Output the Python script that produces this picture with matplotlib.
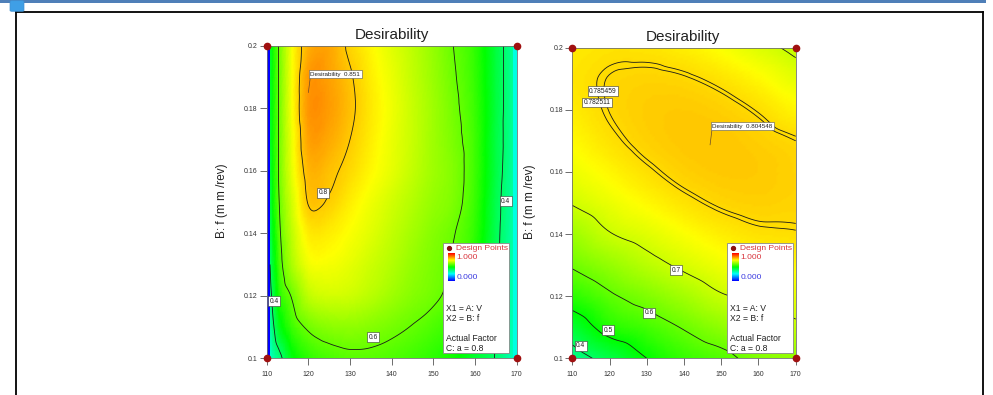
import numpy as np
import matplotlib
matplotlib.use("Agg")
import matplotlib.pyplot as plt
import matplotlib.tri as mtri
from matplotlib.colors import LinearSegmentedColormap
from matplotlib.patches import Rectangle, FancyBboxPatch
from matplotlib.lines import Line2D

plt.rcParams['font.family'] = ['Liberation Sans', 'DejaVu Sans']

# ------------------------------------------------------------------ data
v_ticks = [110, 120, 130, 140, 150, 160, 170]
f_ticks = [0.1, 0.12, 0.14, 0.16, 0.18, 0.2]
f_grid = [0.10, 0.11, 0.12, 0.13, 0.14, 0.15, 0.16, 0.17, 0.18, 0.19, 0.20]

# left panel: desirability (rows = f_grid, cols = left_v)
left_v = [110.8, 111.5, 113, 116, 120, 125, 130, 135, 140, 145, 150, 155, 160, 165, 167.5, 169.1]
left_d = [
    [0.30, 0.33, 0.375, 0.48, 0.54, 0.57, 0.585, 0.585, 0.575, 0.56, 0.54, 0.51, 0.455, 0.395, 0.35, 0.315],
    [0.34, 0.385, 0.47, 0.555, 0.61, 0.635, 0.64, 0.63, 0.615, 0.597, 0.575, 0.545, 0.485, 0.40, 0.355, 0.32],
    [0.375, 0.425, 0.53, 0.605, 0.685, 0.705, 0.70, 0.68, 0.655, 0.63, 0.61, 0.578, 0.51, 0.41, 0.36, 0.325],
    [0.40, 0.455, 0.565, 0.665, 0.735, 0.74, 0.725, 0.70, 0.675, 0.645, 0.62, 0.59, 0.53, 0.415, 0.365, 0.33],
    [0.42, 0.48, 0.585, 0.685, 0.765, 0.765, 0.745, 0.72, 0.69, 0.66, 0.63, 0.602, 0.545, 0.42, 0.37, 0.335],
    [0.43, 0.50, 0.60, 0.705, 0.803, 0.795, 0.765, 0.735, 0.705, 0.675, 0.645, 0.62, 0.555, 0.425, 0.375, 0.34],
    [0.44, 0.505, 0.61, 0.725, 0.818, 0.81, 0.785, 0.755, 0.725, 0.69, 0.655, 0.625, 0.56, 0.435, 0.38, 0.345],
    [0.45, 0.51, 0.61, 0.73, 0.838, 0.832, 0.80, 0.765, 0.73, 0.695, 0.655, 0.618, 0.56, 0.435, 0.385, 0.35],
    [0.45, 0.51, 0.61, 0.74, 0.85, 0.845, 0.81, 0.77, 0.735, 0.695, 0.655, 0.612, 0.555, 0.44, 0.385, 0.35],
    [0.45, 0.51, 0.61, 0.74, 0.845, 0.84, 0.805, 0.765, 0.73, 0.69, 0.65, 0.605, 0.55, 0.44, 0.385, 0.35],
    [0.45, 0.51, 0.61, 0.74, 0.825, 0.835, 0.79, 0.755, 0.72, 0.685, 0.645, 0.598, 0.545, 0.44, 0.385, 0.35],
]
# narrow edge bands of the left panel: (V from, V to, desirability)
left_bands = [(110.0, 110.8, 0.0), (169.1, 170.0, 0.28)]
left_levels = [0.4, 0.6, 0.8]
left_labels = [("0.4", 111.75, 0.1183), ("0.4", 167.4, 0.1503), ("0.6", 135.5, 0.1068),
               ("0.8", 123.5, 0.1529)]
left_opt = (120.0, 0.185, "0.851")

# right panel
right_v = [110, 120, 130, 140, 150, 160, 170]
right_d = [
    [0.36, 0.43, 0.50, 0.55, 0.58, 0.625, 0.645],
    [0.45, 0.53, 0.565, 0.605, 0.64, 0.67, 0.69],
    [0.54, 0.59, 0.625, 0.66, 0.695, 0.71, 0.725],
    [0.607, 0.645, 0.68, 0.71, 0.735, 0.748, 0.755],
    [0.655, 0.697, 0.72, 0.745, 0.765, 0.777, 0.7804],
    [0.703, 0.73, 0.754, 0.7747, 0.7888, 0.7942, 0.791],
    [0.732, 0.756, 0.778, 0.7942, 0.8017, 0.8006, 0.7925],
    [0.752, 0.776, 0.7934, 0.8029, 0.8038, 0.796, 0.7855],
    [0.766, 0.786, 0.7978, 0.8007, 0.7949, 0.7806, 0.7576],
    [0.773, 0.7864, 0.7912, 0.7875, 0.7752, 0.7542, 0.7247],
    [0.769, 0.7755, 0.7738, 0.7635, 0.7445, 0.717, 0.688],
]
right_bands = []
right_levels = [0.4, 0.5, 0.6, 0.7, 0.782511, 0.785459]
right_labels = [("0.7", 137.9, 0.1284), ("0.6", 130.6, 0.1146), ("0.5", 119.6, 0.1091),
                ("0.4", 112.3, 0.104), ("0.785459", 118.2, 0.186), ("0.782511", 116.6, 0.1824)]
right_opt = (147.0, 0.1687, "0.804548")

design_v = [110, 110, 170, 170]
design_f = [0.1, 0.2, 0.1, 0.2]

legend_lines = ["X1 = A: V", "X2 = B: f", "", "Actual Factor", "C: a = 0.8"]

# ------------------------------------------------------------------ style
W, H = 993, 395
cmap = LinearSegmentedColormap.from_list(
    "de", [(0.0, "#0000ff"), (0.25, "#00ffff"), (0.5, "#00ff00"),
           (0.75, "#ffff00"), (1.0, "#ff0000")])


def fx(x):
    return x / W


def fy(y):
    return 1 - y / H


fig = plt.figure(figsize=(W / 100, H / 100), dpi=100)
fig.patch.set_facecolor("white")

# page frame
fig.add_artist(Rectangle((0, fy(2.5)), fx(986), 2.5 / H, transform=fig.transFigure,
                         fc="#4f7fb8", ec="none", zorder=1))
fig.add_artist(FancyBboxPatch((fx(12), fy(10.5)), 10 / W, 9 / H, transform=fig.transFigure,
                              boxstyle="round,pad=0.002", fc="#3f9fe6", ec="#3f8fd0",
                              lw=0.5, zorder=2))
for (xa, ya, xb, yb) in [(16, 12, 16, 395), (16, 12, 983, 12), (983, 12, 983, 395)]:
    fig.add_artist(Line2D([fx(xa), fx(xb)], [fy(ya), fy(yb)], transform=fig.transFigure,
                          color="black", lw=1.3, zorder=1))


def grid_field(v, d):
    V, F = np.meshgrid(np.asarray(v, float), np.asarray(f_grid, float))
    u = (V - 110.0) / 60.0
    w = (F - 0.1) / 0.1
    nr, nc = V.shape
    tris = []
    for i in range(nr - 1):
        for j in range(nc - 1):
            a = i * nc + j
            b = a + 1
            c = a + nc
            e = c + 1
            tris.append([a, b, e])
            tris.append([a, e, c])
    tri = mtri.Triangulation(u.ravel(), w.ravel(), np.array(tris))
    z = np.asarray(d, float).ravel()
    interp = mtri.CubicTriInterpolator(tri, z, kind="geom")
    tri_r, z_r = mtri.UniformTriRefiner(tri).refine_field(z, triinterpolator=interp, subdiv=4)
    tri_d = mtri.Triangulation(tri_r.x * 60.0 + 110.0, tri_r.y * 0.1 + 0.1, tri_r.triangles)
    return tri_d, z_r


def panel(rect, v, d, bands, levels, labels, opt, title_xy, ylab_xy, legend_rect):
    ax = fig.add_axes(rect)
    ax.set_xlim(110, 170)
    ax.set_ylim(0.1, 0.2)
    tri_d, z_r = grid_field(v, d)
    ax.tripcolor(tri_d, np.clip(z_r, 0, 1), shading="gouraud", cmap=cmap, vmin=0, vmax=1,
                 rasterized=True)
    for (a, b, val) in bands:
        ax.axvspan(a, b, color=cmap(val), lw=0, zorder=2)
    ax.tricontour(tri_d, z_r, levels=levels, colors="#1a1a1a", linewidths=0.6, zorder=3)
    for (txt, lx, ly) in labels:
        ax.text(lx, ly, txt, ha="center", va="center", fontsize=4.8, color="#222222",
                zorder=6, bbox=dict(boxstyle="square,pad=0.18", fc="white", ec="#333333",
                                    lw=0.4))
    ax.annotate("Desirability  " + opt[2], xy=(opt[0], opt[1]), xytext=(2, 16),
                textcoords="offset pixels", fontsize=4.5, ha="left", va="bottom",
                color="#222222", zorder=7,
                bbox=dict(boxstyle="square,pad=0.25", fc="white", ec="#555555", lw=0.4),
                arrowprops=dict(arrowstyle="-", color="#6b4a2a", lw=0.5,
                                shrinkA=0, shrinkB=0, relpos=(0.0, 0.0)))
    ax.plot(design_v, design_f, "o", color="#a01010", ms=4.5, clip_on=False, zorder=10)
    ax.set_xticks(v_ticks)
    ax.set_xticklabels([str(t) for t in v_ticks])
    ax.set_yticks(f_ticks)
    ax.set_yticklabels(["%g" % t for t in f_ticks])
    ax.tick_params(axis="both", direction="out", length=5, width=0.6, colors="#555555",
                   labelsize=5, labelcolor="#333333")
    ax.tick_params(axis="x", pad=4)
    ax.tick_params(axis="y", pad=1.5)
    for s in ax.spines.values():
        s.set_linewidth(0.6)
        s.set_color("#707070")
        s.set_zorder(8)
    fig.text(fx(title_xy[0]), fy(title_xy[1]), "Desirability", ha="center", va="baseline",
             fontsize=11, color="#222222")
    fig.text(fx(ylab_xy[0]), fy(ylab_xy[1]), "B: f (m m /rev)", ha="center", va="center",
             rotation=90, fontsize=8.5, color="#222222")
    # legend box
    x0, y0, x1, y1 = legend_rect
    fig.add_artist(Rectangle((fx(x0), fy(y1)), (x1 - x0) / W, (y1 - y0) / H,
                             transform=fig.transFigure, fc="white", ec="#888888", lw=0.6,
                             zorder=4))
    fig.add_artist(Line2D([fx(x0 + 6.3)], [fy(y0 + 5.3)], marker="o", ms=2.8, color="#8b1010",
                          transform=fig.transFigure, zorder=5))
    fig.text(fx(x0 + 13.5), fy(y0 + 5.5), "Design Points", ha="left", va="center",
             fontsize=6, color="#d8343c", zorder=5)
    cax = fig.add_axes([fx(x0 + 5.6), fy(y0 + 38), 6.7 / W, 27.4 / H])
    cax.imshow(np.linspace(0, 1, 64)[:, None], aspect="auto", cmap=cmap, origin="lower")
    cax.set_axis_off()
    cax.set_zorder(6)
    fig.text(fx(x0 + 14), fy(y0 + 15), "1.000", ha="left", va="center", fontsize=6,
             color="#d8343c", zorder=5)
    fig.text(fx(x0 + 14), fy(y0 + 35), "0.000", ha="left", va="center", fontsize=6,
             color="#3a3ae0", zorder=5)
    for k, line in enumerate(legend_lines):
        if line:
            fig.text(fx(x0 + 3.3), fy(y0 + 65.6 + 10 * k), line, ha="left", va="center",
                     fontsize=6.2, color="#222222", zorder=5)
    return ax


panel([fx(266.7), fy(358.3), 250 / W, 312.6 / H], left_v, left_d, left_bands, left_levels,
      left_labels, left_opt, (391.7, 39.3), (221.5, 201),
      (442.7, 242.7, 509.3, 353.3))
panel([fx(572.3), fy(358.3), 223.4 / W, 310.6 / H], right_v, right_d, right_bands, right_levels,
      right_labels, right_opt, (683, 40.8), (530, 202),
      (726.7, 242.7, 793.3, 353.3))

fig.savefig("out.png", dpi=100)
